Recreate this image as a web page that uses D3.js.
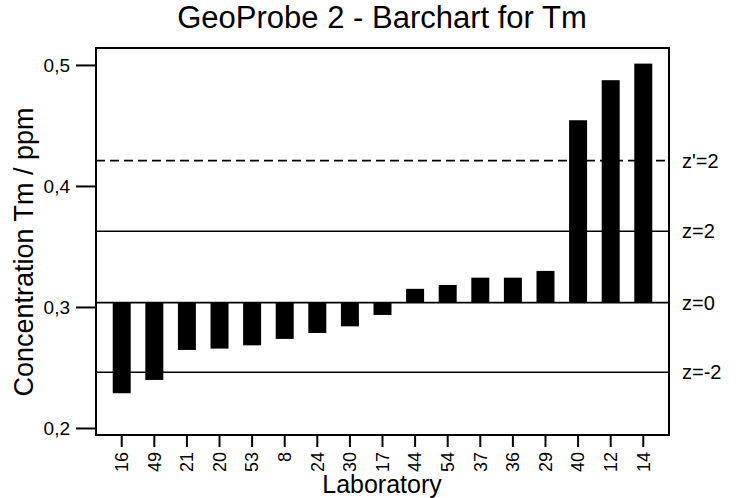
<!DOCTYPE html>
<html>
<head>
<meta charset="utf-8">
<script src="https://cdn.jsdelivr.net/npm/d3@7"></script>
<style>
  html, body { margin: 0; padding: 0; background: #fff; }
  svg { display: block; font-family: "Liberation Sans", Arial, sans-serif; }
</style>
</head>
<body>
<svg id="chart" width="743" height="498"></svg>
<script>
// Laboratories, sorted by reported Tm concentration
const labs = ["16", "49", "21", "20", "53", "8", "24", "30", "17", "44", "54", "37", "36", "29", "40", "12", "14"];
const values = [0.2287, 0.2397, 0.2645, 0.2656, 0.2683, 0.2736, 0.2785, 0.2840, 0.2934,
                0.3150, 0.3182, 0.3242, 0.3242, 0.3298, 0.4543, 0.4874, 0.5011];

// Assigned value and z-score limits
const refNames = ["z'=2", "z=2", "z=0", "z=-2"];
const refValues = [0.4209, 0.3626, 0.3036, 0.2460];
const refDashed = [true, false, false, false];

const yTicks = [0.2, 0.3, 0.4, 0.5];
const yDomain = [0.1942, 0.514];

const svg = d3.select("#chart");
const m = { left: 96, right: 669, top: 48, bottom: 435 };

const x = d3.scaleBand()
  .domain(labs)
  .range([m.left, m.right])
  .paddingInner(0.448)
  .paddingOuter(0.513);

const y = d3.scaleLinear().domain(yDomain).range([m.bottom, m.top]);

const fmt = d => d3.format(".1f")(d).replace(".", ",");

// Reference lines
refValues.forEach((v, i) => {
  svg.append("line")
    .attr("x1", m.left).attr("x2", m.right)
    .attr("y1", y(v)).attr("y2", y(v))
    .attr("stroke", "#000").attr("stroke-width", 1.6)
    .attr("stroke-dasharray", refDashed[i] ? "9,5" : null);
  svg.append("text")
    .attr("x", 682).attr("y", y(v))
    .attr("dy", "0.35em")
    .attr("font-size", 20)
    .text(refNames[i]);
});

// Bars hang from the assigned value
const z0 = refValues[2];
svg.append("g").selectAll("rect")
  .data(labs.map((l, i) => ({ lab: l, v: values[i] })))
  .join("rect")
  .attr("x", d => x(d.lab))
  .attr("width", x.bandwidth())
  .attr("y", d => y(Math.max(d.v, z0)))
  .attr("height", d => Math.abs(y(d.v) - y(z0)))
  .attr("fill", "#000");

// Frame
svg.append("rect")
  .attr("x", m.left).attr("y", m.top)
  .attr("width", m.right - m.left).attr("height", m.bottom - m.top)
  .attr("fill", "none").attr("stroke", "#000").attr("stroke-width", 2);

// Y axis
const yAxis = svg.append("g")
  .attr("transform", `translate(${m.left},0)`)
  .call(d3.axisLeft(y).tickValues(yTicks).tickFormat(fmt).tickSize(20).tickPadding(6));
yAxis.select(".domain").remove();
yAxis.selectAll("line").attr("stroke-width", 2);
yAxis.selectAll("text").attr("font-size", 19).attr("fill", "#000")
  .attr("font-family", "Liberation Sans, Arial, sans-serif");

// X axis
const xAxis = svg.append("g")
  .attr("transform", `translate(0,${m.bottom})`)
  .call(d3.axisBottom(x).tickSize(12).tickSizeOuter(0));
xAxis.select(".domain").remove();
xAxis.selectAll("line").attr("stroke-width", 2);
xAxis.selectAll("text")
  .attr("font-size", 18).attr("fill", "#000")
  .attr("font-family", "Liberation Sans, Arial, sans-serif")
  .attr("transform", "rotate(-90)")
  .attr("text-anchor", "end")
  .attr("x", -17).attr("y", 0).attr("dy", "0.35em");

// Titles
svg.append("text")
  .attr("x", 382).attr("y", 28)
  .attr("text-anchor", "middle")
  .attr("font-size", 31)
  .text("GeoProbe 2 - Barchart for Tm");

svg.append("text")
  .attr("x", 382).attr("y", 493)
  .attr("text-anchor", "middle")
  .attr("font-size", 25)
  .text("Laboratory");

svg.append("text")
  .attr("transform", "translate(33,252) rotate(-90)")
  .attr("text-anchor", "middle")
  .attr("font-size", 27)
  .text("Concentration Tm / ppm");
</script>
</body>
</html>
